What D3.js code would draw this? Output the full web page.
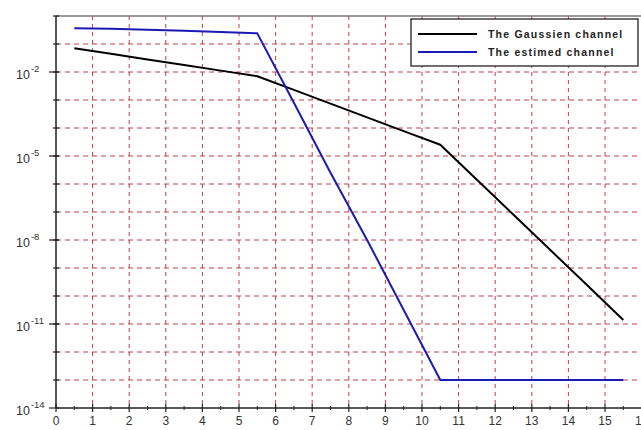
<!DOCTYPE html>
<html>
<head>
<meta charset="utf-8">
<script src="https://cdn.jsdelivr.net/npm/d3@7"></script>
<style>
  html, body { margin: 0; padding: 0; background: #fff; }
  svg { display: block; font-family: "Liberation Sans", Arial, sans-serif; }
</style>
</head>
<body>
<svg id="chart" width="641" height="430"></svg>
<script>
// SNR positions (x) shared by both curves
const snr = [0.5, 1.5, 2.5, 3.5, 4.5, 5.5, 6.5, 7.5, 8.5, 9.5, 10.5, 11.5, 12.5, 13.5, 14.5, 15.5];

// Error rate over the Gaussian channel
const gaussian = [7.08e-2, 4.47e-2, 2.82e-2, 1.78e-2, 1.12e-2, 7.08e-3, 2.29e-3, 7.41e-4,
                  2.40e-4, 7.76e-5, 2.51e-5, 1.41e-6, 7.94e-8, 4.47e-9, 2.51e-10, 1.38e-11];

// Error rate over the estimated channel
const estimed = [0.363, 0.347, 0.324, 0.295, 0.269, 0.240, 7.94e-4, 2.51e-6,
                 1.0e-8, 3.16e-11, 1e-13, 1e-13, 1e-13, 1e-13, 1e-13, 1e-13];

const seriesNames = ["The Gaussien channel", "The estimed channel"];
const seriesColors = ["#000000", "#1a1ab4"];

const xTicks = [0, 1, 2, 3, 4, 5, 6, 7, 8, 9, 10, 11, 12, 13, 14, 15, 16];
const yLabelExps = [-2, -5, -8, -11, -14];

const svg = d3.select("#chart");
const plotLeft = 56, plotTop = 16, plotBottom = 408, plotRight = 641.6;

const x = d3.scaleLinear().domain([0, 16]).range([plotLeft, plotRight]);
const y = d3.scaleLog().domain([1e-14, 1]).range([plotBottom, plotTop]);

const decades = d3.range(-13, 0).map(e => Math.pow(10, e));
const gridColor = "#b8202a";

// grid
const grid = svg.append("g");
grid.selectAll("line.h").data(decades).join("line")
  .attr("x1", plotLeft).attr("x2", plotRight)
  .attr("y1", d => y(d)).attr("y2", d => y(d))
  .attr("stroke", gridColor).attr("stroke-width", 1)
  .attr("stroke-dasharray", "5,4").attr("opacity", 0.85);
grid.selectAll("line.v").data(d3.range(1, 16)).join("line")
  .attr("y1", plotTop).attr("y2", plotBottom)
  .attr("x1", d => x(d)).attr("x2", d => x(d))
  .attr("stroke", gridColor).attr("stroke-width", 1)
  .attr("stroke-dasharray", "4,4").attr("opacity", 0.85);

// frame top
svg.append("line").attr("x1", plotLeft).attr("x2", plotRight).attr("y1", plotTop).attr("y2", plotTop)
  .attr("stroke", "#777").attr("stroke-width", 1.5);

// x axis
const xAxis = svg.append("g").attr("transform", `translate(0,${plotBottom})`);
xAxis.append("line").attr("x1", plotLeft).attr("x2", plotRight).attr("stroke", "#222").attr("stroke-width", 1.5);
xAxis.selectAll("line.maj").data(xTicks).join("line")
  .attr("x1", d => x(d)).attr("x2", d => x(d)).attr("y1", -4).attr("y2", 4)
  .attr("stroke", "#222").attr("stroke-width", 1.2);
xAxis.selectAll("line.min").data(d3.range(0.5, 16, 1)).join("line")
  .attr("x1", d => x(d)).attr("x2", d => x(d)).attr("y1", -2).attr("y2", 2)
  .attr("stroke", "#222").attr("stroke-width", 1);
xAxis.selectAll("text").data(xTicks).join("text")
  .attr("x", d => x(d)).attr("y", 17)
  .attr("text-anchor", "middle").attr("font-size", 12).attr("fill", "#333")
  .text(d => d);

// y axis
const yAxis = svg.append("g");
yAxis.append("line").attr("x1", plotLeft).attr("x2", plotLeft).attr("y1", plotTop).attr("y2", plotBottom)
  .attr("stroke", "#222").attr("stroke-width", 1.5);
yAxis.selectAll("line.min").data(decades.concat([1])).join("line")
  .attr("x1", plotLeft - 3).attr("x2", plotLeft + 3)
  .attr("y1", d => y(d)).attr("y2", d => y(d))
  .attr("stroke", "#222").attr("stroke-width", 1.2);
yAxis.selectAll("line.maj").data(yLabelExps).join("line")
  .attr("x1", plotLeft - 7).attr("x2", plotLeft + 3)
  .attr("y1", d => y(Math.pow(10, d))).attr("y2", d => y(Math.pow(10, d)))
  .attr("stroke", "#222").attr("stroke-width", 1.2);
const yl = yAxis.selectAll("text").data(yLabelExps).join("text")
  .attr("x", 16).attr("y", d => y(Math.pow(10, d)) + 7)
  .attr("font-size", 12.5).attr("fill", "#333");
yl.append("tspan").text("10");
yl.append("tspan").attr("dy", -7).attr("font-size", 9.5).attr("dx", 1).text(d => "-" + Math.abs(d));

// curves
const line = d3.line().x((d, i) => x(snr[i])).y(d => y(d));
[gaussian, estimed].forEach((s, k) => {
  svg.append("path").datum(s)
    .attr("d", line)
    .attr("fill", "none")
    .attr("stroke", seriesColors[k])
    .attr("stroke-width", 2)
    .attr("stroke-linejoin", "round");
});

// legend
const lg = svg.append("g");
lg.append("rect").attr("x", 411).attr("y", 19).attr("width", 227).attr("height", 47)
  .attr("fill", "#fff").attr("stroke", "#222").attr("stroke-width", 1.3);
seriesNames.forEach((name, k) => {
  const yy = 34 + k * 18;
  lg.append("line").attr("x1", 418).attr("x2", 477).attr("y1", yy).attr("y2", yy)
    .attr("stroke", seriesColors[k]).attr("stroke-width", 2);
  lg.append("text").attr("x", 488).attr("y", yy + 4)
    .attr("font-size", 10.5).attr("font-weight", "bold").attr("letter-spacing", 1.2)
    .attr("fill", "#222").text(name);
});
</script>
</body>
</html>
